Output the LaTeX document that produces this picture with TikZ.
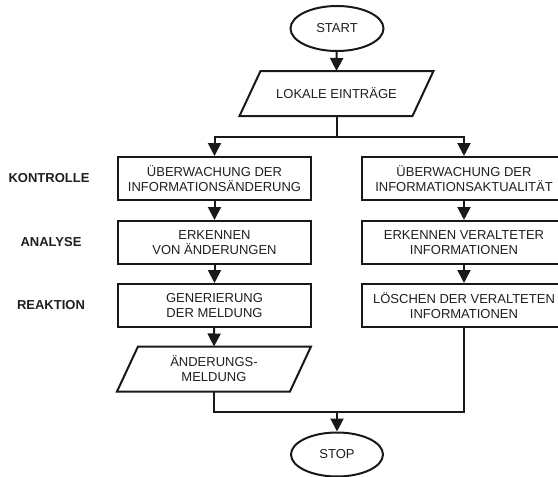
\documentclass[tikz,border=0pt]{standalone}
\usepackage{fontspec}
\setmainfont{Liberation Sans}
\usetikzlibrary{arrows.meta,shapes.geometric}

\tikzset{
  base/.style={font=\fontsize{13}{15}\selectfont, text=black!88, align=center, line width=2pt, draw=black!90},
  terminal/.style={base, ellipse, minimum width=93pt, minimum height=45pt, inner sep=0pt},
  procbox/.style={base, rectangle, minimum height=43pt, inner sep=0pt},
  iobox/.style={base, rectangle, draw=none, minimum height=43pt, inner sep=0pt},
  stage/.style={font=\fontsize{13}{15}\selectfont\bfseries, text=black!88, align=center},
  flow/.style={line width=2pt, draw=black!90},
  arr/.style={flow, -{Triangle[length=13pt,width=13pt]}},
}

% outline of an input/output parallelogram around a named node
\newcommand{\ioshape}[2]{%
  \draw[flow, line join=miter]
    ([xshift=#2]#1.north west) -- ([xshift=#2]#1.north east)
    -- ([xshift=-#2]#1.south east) -- ([xshift=-#2]#1.south west) -- cycle;}

\begin{document}
\begin{tikzpicture}[x=1pt, y=-1pt]
  \useasboundingbox (0,0) rectangle (558,477);
  \clip (0,0) rectangle (558,477);

  % terminals and input
  \node[terminal] (start) at (337,28.5) {START};
  \node[iobox, minimum width=171pt] (lok) at (336.5,93.5) {LOKALE EINTRÄGE};
  \ioshape{lok}{10.5pt}

  % left branch
  \node[procbox, minimum width=193pt] (l1) at (214.5,178.5) {ÜBERWACHUNG DER\\INFORMATIONSÄNDERUNG};
  \node[procbox, minimum width=193pt] (l2) at (214.5,242.5) {ERKENNEN\\VON ÄNDERUNGEN};
  \node[procbox, minimum width=193pt] (l3) at (214.5,305.5) {GENERIERUNG\\DER MELDUNG};
  \node[iobox, minimum width=171pt] (msg) at (214,369) {ÄNDERUNGS-\\MELDUNG};
  \ioshape{msg}{10.5pt}

  % right branch
  \node[procbox, minimum width=204pt] (r1) at (464,178.5) {ÜBERWACHUNG DER\\INFORMATIONSAKTUALITÄT};
  \node[procbox, minimum width=204pt] (r2) at (464,242.5) {ERKENNEN VERALTETER\\INFORMATIONEN};
  \node[procbox, minimum width=204pt] (r3) at (464,305.5) {LÖSCHEN DER VERALTETEN\\INFORMATIONEN};

  \node[terminal, minimum width=92pt, minimum height=44pt] (stop) at (337,454.5) {STOP};

  % stage labels
  \node[stage] (kon) at (49,178.5) {KONTROLLE};
  \node[stage] (ana) at (51,242.5) {ANALYSE};
  \node[stage] (rea) at (51,305.5) {REAKTION};

  % connectors
  \draw[arr] (start) -- (lok.north);
  \draw[flow] (lok.south) -- ++(0,21) coordinate (split);
  \draw[arr] (split) -| (l1.north);
  \draw[arr] (split) -| (r1.north);
  \draw[arr] (l1) -- (l2);
  \draw[arr] (l2) -- (l3);
  \draw[arr] (l3) -- (msg.north);
  \draw[arr] (r1) -- (r2);
  \draw[arr] (r2) -- (r3);
  \coordinate (join) at (337,411.5);
  \draw[flow, line join=miter] (msg.south) |- (join);
  \draw[flow, line join=miter] (r3.south) |- (join);
  \draw[arr] (join) -- (stop.north);
\end{tikzpicture}
\end{document}
